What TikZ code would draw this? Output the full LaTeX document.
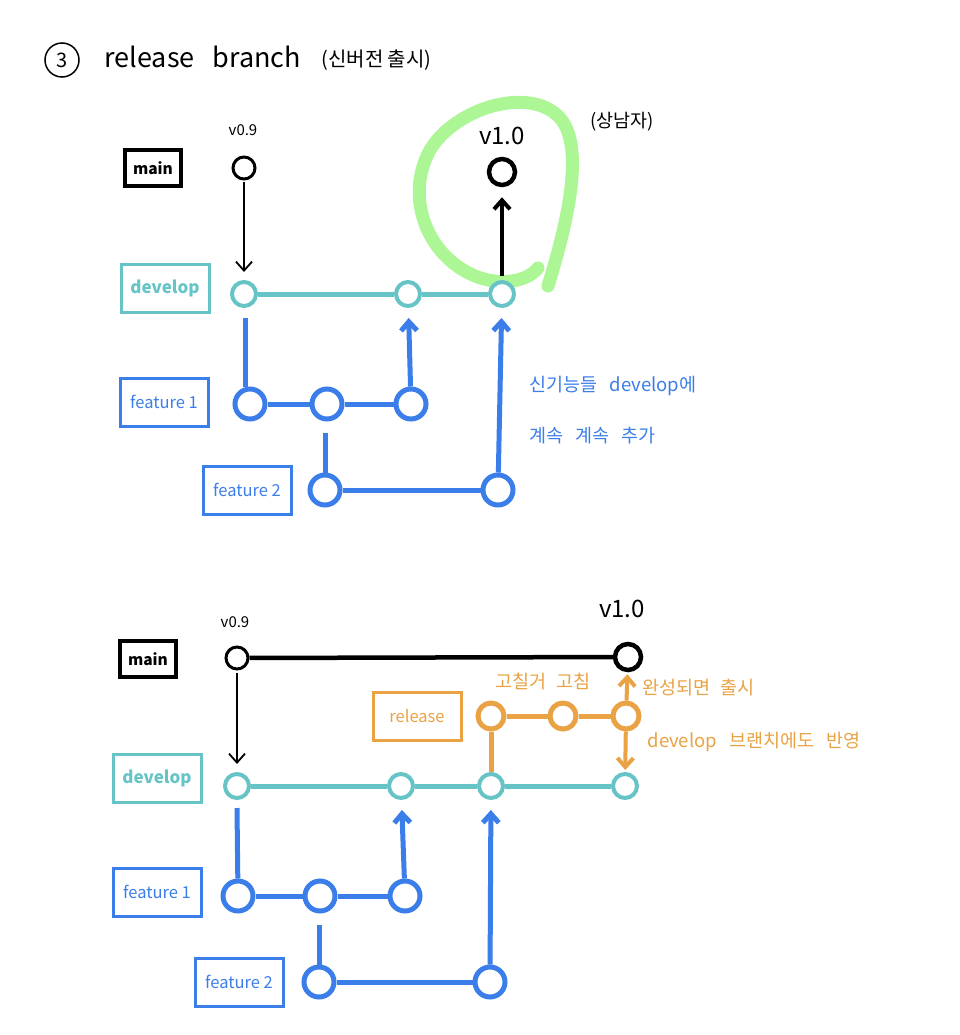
\documentclass[tikz,border=0pt]{standalone}
\usepackage{fontspec}
\setmainfont{Noto Sans CJK KR}
\usetikzlibrary{arrows.meta}
\definecolor{tealc}{HTML}{66C4C6}
\definecolor{bluec}{HTML}{3B7DE9}
\definecolor{orangec}{HTML}{E9A244}
\definecolor{greenc}{HTML}{A3F58A}
\begin{document}
\begin{tikzpicture}[x=1pt,y=-1pt,
  mnode/.style={circle, draw=black, line width=3pt, minimum size=22pt, inner sep=0pt, fill=white},
  bignode/.style={circle, draw=black, line width=4.5pt, minimum size=26pt, inner sep=0pt, fill=white},
  dnode/.style={circle, draw=tealc, line width=4pt, minimum size=24pt, inner sep=0pt, fill=white},
  fnode/.style={circle, draw=bluec, line width=5pt, minimum size=30pt, inner sep=0pt, fill=white},
  rnode/.style={circle, draw=orangec, line width=5pt, minimum size=26pt, inner sep=0pt, fill=white},
  labbox/.style={draw, line width=3pt, minimum width=88pt, minimum height=48pt, inner sep=0pt, font=\fontsize{16.5}{16.5}\selectfont},
  devbox/.style={labbox, draw=tealc, text=tealc, font=\bfseries\fontsize{17}{17}\selectfont},
  mainbox/.style={draw=black, line width=4pt, minimum width=56pt, minimum height=36pt, inner sep=0pt, font=\bfseries\fontsize{15.5}{15.5}\selectfont},
  ver/.style={font=\fontsize{15}{15}\selectfont},
  bigver/.style={font=\fontsize{24}{24}\selectfont},
  kor/.style={font=\fontsize{18.5}{18.5}\selectfont},
  tline/.style={draw=tealc, line width=5pt},
  bline/.style={draw=bluec, line width=5pt},
  oline/.style={draw=orangec, line width=5pt},
  tip/.style={-{Straight Barb[length=9pt,width=16pt]}},
]
\useasboundingbox (0,0) rectangle (959,1035);
% ---------- title
\node[circle, draw, line width=1.5pt, minimum size=34pt, inner sep=0pt, font=\fontsize{20}{20}\selectfont] (c3) at (62,60) {3};
\node[anchor=west, font=\fontsize{27}{27}\selectfont] (ttl) at (101,57) {release\hspace{18pt}branch};
\node[anchor=west, font=\fontsize{20}{20}\selectfont] (ttk) at (318,60) {(신버전 출시)};

% ---------- top diagram
\draw[greenc, line width=13pt, line cap=round, opacity=0.9]
  (548,286) .. controls (562,240) and (588,150) .. (560,118)
  .. controls (530,85) and (455,108) .. (430,150)
  .. controls (405,195) and (425,255) .. (475,276)
  .. controls (500,286) and (527,282) .. (538,268);

\node[mainbox] (main1) at (153,168) {main};
\node[devbox] (dev1) at (165,288) {develop};
\node[labbox, draw=bluec, text=bluec] (f11) at (164,402) {feature 1};
\node[labbox, draw=bluec, text=bluec] (f21) at (247,490) {feature 2};

\node[ver] (v09a) at (243,130) {v0.9};
\node[bigver] (v10a) at (502,136) {v1.0};
\node[kor] (sang) at (622,122) {(상남자)};

\node[mnode] (m1) at (244,168) {};
\node[bignode] (m2) at (502,172) {};

\node[dnode] (d1) at (244,294) {};
\node[dnode] (d2) at (408,294) {};
\node[dnode] (d3) at (502,294) {};
\draw[tline] (d1) -- (d2);
\draw[tline] (d2) -- (d3);

\node[fnode] (a1) at (250,404) {};
\node[fnode] (a2) at (327,404) {};
\node[fnode] (a3) at (411,404) {};
\draw[bline] (a1) -- (a2);
\draw[bline] (a2) -- (a3);

\node[fnode] (b1) at (325,490) {};
\node[fnode] (b2) at (498,490) {};
\draw[bline] (b1) -- (b2);

\draw[black, line width=1.8pt, tip, shorten <=2pt, shorten >=8pt] (m1) -- (d1);
\draw[black, line width=4pt, tip, shorten <=4pt, shorten >=10pt] (d3) -- (m2);
\coordinate (d1s) at (245,318);
\draw[bline] (d1s) -- (a1.north -| d1s);
\draw[bline, tip, shorten >=10pt] (a3) -- (d2);
\coordinate (b1top) at (325,433);
\draw[bline] (b1top) -- (b1);
\draw[bline, tip, shorten >=10pt] (b2) -- (d3);

\node[kor, text=bluec, anchor=west] (k1) at (526,386) {신기능들\hspace{12pt}develop에};
\node[kor, text=bluec, anchor=west] (k2) at (526,436) {계속\hspace{12pt}계속\hspace{12pt}추가};

% ---------- bottom diagram
\node[mainbox] (main2) at (148,659) {main};
\node[devbox] (dev2) at (157,778) {develop};
\node[labbox, draw=orangec, text=orangec] (rel) at (417,716) {release};
\node[labbox, draw=bluec, text=bluec] (f12) at (157,892) {feature 1};
\node[labbox, draw=bluec, text=bluec] (f22) at (239,982) {feature 2};

\node[ver] (v09b) at (235,622) {v0.9};
\node[bigver] (v10b) at (622,609) {v1.0};

\node[mnode] (n1) at (237,658) {};
\node[bignode] (n2) at (628,657) {};
\draw[black, line width=4.5pt] (n1) -- (n2);

\node[dnode] (e1) at (237,786) {};
\node[dnode] (e2) at (401,786) {};
\node[dnode] (e3) at (491,786) {};
\node[dnode] (e4) at (625,786) {};
\draw[tline] (e1) -- (e2);
\draw[tline] (e2) -- (e3);
\draw[tline] (e3) -- (e4);

\node[rnode] (r1) at (491,716) {};
\node[rnode] (r2) at (563,716) {};
\node[rnode] (r3) at (626,716) {};
\draw[oline] (r1) -- (r2);
\draw[oline] (r2) -- (r3);
\draw[oline] (r1) -- (e3);
\draw[oline, line width=4pt, tip, shorten >=2pt] (r3) -- (n2);
\draw[oline, line width=4pt, tip, shorten >=2pt] (r3) -- (e4);

\node[kor, text=orangec] (fix) at (543,682) {고칠거\hspace{10pt}고침};
\node[kor, text=orangec, anchor=west] (done) at (639,688) {완성되면\hspace{10pt}출시};
\node[kor, text=orangec, anchor=west] (refl) at (644,742) {develop\hspace{12pt}브랜치에도\hspace{12pt}반영};

\node[fnode] (g1) at (238,896) {};
\node[fnode] (g2) at (320,896) {};
\node[fnode] (g3) at (405,896) {};
\draw[bline] (g1) -- (g2);
\draw[bline] (g2) -- (g3);

\node[fnode] (h1) at (319,982) {};
\node[fnode] (h2) at (490,982) {};
\draw[bline] (h1) -- (h2);

\draw[black, line width=1.8pt, tip, shorten <=2pt, shorten >=8pt] (n1) -- (e1);
\coordinate (e1s) at (237,808);
\draw[bline] (e1s) -- (g1);
\draw[bline, tip, shorten >=10pt] (g3) -- (e2);
\coordinate (h1top) at (319,925);
\draw[bline] (h1top) -- (h1);
\draw[bline, tip, shorten >=10pt] (h2) -- (e3);
\end{tikzpicture}
\end{document}
